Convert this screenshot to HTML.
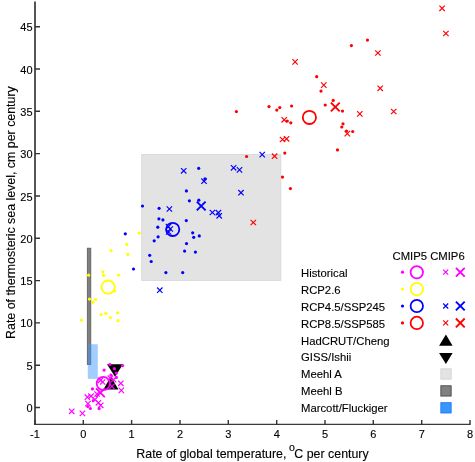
<!DOCTYPE html>
<html><head><meta charset="utf-8"><title>Chart</title>
<style>
html,body{margin:0;padding:0;background:#fff;}
body{width:475px;height:462px;overflow:hidden;font-family:"Liberation Sans",sans-serif;}
svg{display:block;}
text{-webkit-font-smoothing:antialiased;stroke:#000;stroke-width:0.12px;}
</style></head><body>
<svg width="475" height="462" viewBox="0 0 475 462" style="will-change:transform">
<rect width="475" height="462" fill="#fff"/>
<rect x="141.7" y="154.4" width="139.2" height="126.0" fill="#e3e3e3" stroke="#d6d6d6" stroke-width="0.8"/>
<rect x="87.3" y="248.2" width="3.5" height="116.3" fill="#808080" stroke="#5a5a5a" stroke-width="0.8"/>
<path d="M107.0 364.2L123.0 364.2L115.0 376.8Z" fill="#000"/>
<path d="M103.4 389.4L118.4 389.4L110.9 376.6Z" fill="#000"/>
<rect x="87.8" y="344.2" width="10.0" height="34.7" fill="#3d94ff" fill-opacity="0.47"/>
<circle cx="139.2" cy="233.1" r="1.6" fill="#ffff00"/>
<circle cx="126.7" cy="244.4" r="1.6" fill="#ffff00"/>
<circle cx="111.0" cy="250.7" r="1.6" fill="#ffff00"/>
<circle cx="127.9" cy="254.4" r="1.6" fill="#ffff00"/>
<circle cx="102.9" cy="271.8" r="1.6" fill="#ffff00"/>
<circle cx="103.7" cy="275.4" r="1.6" fill="#ffff00"/>
<circle cx="118.5" cy="275.1" r="1.6" fill="#ffff00"/>
<circle cx="88.6" cy="275.2" r="1.6" fill="#ffff00"/>
<circle cx="114.5" cy="290.7" r="1.6" fill="#ffff00"/>
<circle cx="89.5" cy="299.1" r="1.6" fill="#ffff00"/>
<circle cx="95.7" cy="299.5" r="1.6" fill="#ffff00"/>
<circle cx="92.9" cy="302.3" r="1.6" fill="#ffff00"/>
<circle cx="101.1" cy="314.6" r="1.6" fill="#ffff00"/>
<circle cx="105.8" cy="313.3" r="1.6" fill="#ffff00"/>
<circle cx="110.4" cy="317.6" r="1.6" fill="#ffff00"/>
<circle cx="117.6" cy="312.8" r="1.6" fill="#ffff00"/>
<circle cx="118.1" cy="320.7" r="1.6" fill="#ffff00"/>
<circle cx="81.4" cy="320.2" r="1.6" fill="#ffff00"/>
<circle cx="108.1" cy="287.1" r="6.6" stroke="#ffff00" stroke-width="1.8" fill="none"/>
<circle cx="198.7" cy="168.3" r="1.6" fill="#0000ff"/>
<circle cx="205.0" cy="178.9" r="1.6" fill="#0000ff"/>
<circle cx="186.4" cy="190.9" r="1.6" fill="#0000ff"/>
<circle cx="189.4" cy="200.8" r="1.6" fill="#0000ff"/>
<circle cx="198.8" cy="200.2" r="1.6" fill="#0000ff"/>
<circle cx="142.5" cy="206.0" r="1.6" fill="#0000ff"/>
<circle cx="159.1" cy="208.3" r="1.6" fill="#0000ff"/>
<circle cx="158.9" cy="218.8" r="1.6" fill="#0000ff"/>
<circle cx="162.9" cy="219.9" r="1.6" fill="#0000ff"/>
<circle cx="186.3" cy="220.6" r="1.6" fill="#0000ff"/>
<circle cx="157.8" cy="227.2" r="1.6" fill="#0000ff"/>
<circle cx="192.7" cy="232.8" r="1.6" fill="#0000ff"/>
<circle cx="193.7" cy="237.3" r="1.6" fill="#0000ff"/>
<circle cx="199.3" cy="235.9" r="1.6" fill="#0000ff"/>
<circle cx="158.1" cy="236.8" r="1.6" fill="#0000ff"/>
<circle cx="154.2" cy="240.8" r="1.6" fill="#0000ff"/>
<circle cx="186.5" cy="243.6" r="1.6" fill="#0000ff"/>
<circle cx="184.6" cy="251.1" r="1.6" fill="#0000ff"/>
<circle cx="195.4" cy="252.1" r="1.6" fill="#0000ff"/>
<circle cx="149.7" cy="255.3" r="1.6" fill="#0000ff"/>
<circle cx="151.2" cy="261.5" r="1.6" fill="#0000ff"/>
<circle cx="133.5" cy="269.0" r="1.6" fill="#0000ff"/>
<circle cx="165.9" cy="272.6" r="1.6" fill="#0000ff"/>
<circle cx="182.7" cy="272.6" r="1.6" fill="#0000ff"/>
<circle cx="125.3" cy="233.8" r="1.6" fill="#0000ff"/>
<path d="M181.0 168.1L186.4 173.5M181.0 173.5L186.4 168.1" stroke="#0000ff" stroke-width="1.15" fill="none"/>
<path d="M201.3 178.5L206.7 183.9M201.3 183.9L206.7 178.5" stroke="#0000ff" stroke-width="1.15" fill="none"/>
<path d="M166.7 206.3L172.1 211.7M166.7 211.7L172.1 206.3" stroke="#0000ff" stroke-width="1.15" fill="none"/>
<path d="M209.7 209.8L215.1 215.2M209.7 215.2L215.1 209.8" stroke="#0000ff" stroke-width="1.15" fill="none"/>
<path d="M215.7 210.0L221.1 215.4M215.7 215.4L221.1 210.0" stroke="#0000ff" stroke-width="1.15" fill="none"/>
<path d="M216.5 213.1L221.9 218.5M216.5 218.5L221.9 213.1" stroke="#0000ff" stroke-width="1.15" fill="none"/>
<path d="M230.9 165.1L236.3 170.5M230.9 170.5L236.3 165.1" stroke="#0000ff" stroke-width="1.15" fill="none"/>
<path d="M236.8 167.2L242.2 172.6M236.8 172.6L242.2 167.2" stroke="#0000ff" stroke-width="1.15" fill="none"/>
<path d="M238.3 190.0L243.7 195.4M238.3 195.4L243.7 190.0" stroke="#0000ff" stroke-width="1.15" fill="none"/>
<path d="M259.5 151.9L264.9 157.3M259.5 157.3L264.9 151.9" stroke="#0000ff" stroke-width="1.15" fill="none"/>
<path d="M157.1 287.5L162.5 292.9M157.1 292.9L162.5 287.5" stroke="#0000ff" stroke-width="1.15" fill="none"/>
<path d="M165.8 223.9L171.2 229.3M165.8 229.3L171.2 223.9" stroke="#0000ff" stroke-width="1.15" fill="none"/>
<path d="M167.6 226.3L173.0 231.7M167.6 231.7L173.0 226.3" stroke="#0000ff" stroke-width="1.15" fill="none"/>
<path d="M165.9 229.3L171.3 234.7M165.9 234.7L171.3 229.3" stroke="#0000ff" stroke-width="1.15" fill="none"/>
<path d="M196.8 201.6L205.6 210.4M196.8 210.4L205.6 201.6" stroke="#0000ff" stroke-width="1.9" fill="none"/>
<circle cx="172.7" cy="229.4" r="6.6" stroke="#0000ff" stroke-width="1.8" fill="none"/>
<circle cx="367.5" cy="40.1" r="1.6" fill="#ff0000"/>
<circle cx="351.4" cy="45.6" r="1.6" fill="#ff0000"/>
<circle cx="316.7" cy="76.7" r="1.6" fill="#ff0000"/>
<circle cx="321.0" cy="91.1" r="1.6" fill="#ff0000"/>
<circle cx="269.0" cy="106.6" r="1.6" fill="#ff0000"/>
<circle cx="276.8" cy="110.1" r="1.6" fill="#ff0000"/>
<circle cx="279.8" cy="107.6" r="1.6" fill="#ff0000"/>
<circle cx="291.6" cy="106.0" r="1.6" fill="#ff0000"/>
<circle cx="325.2" cy="105.0" r="1.6" fill="#ff0000"/>
<circle cx="333.2" cy="100.4" r="1.6" fill="#ff0000"/>
<circle cx="342.5" cy="111.1" r="1.6" fill="#ff0000"/>
<circle cx="287.3" cy="121.0" r="1.6" fill="#ff0000"/>
<circle cx="290.8" cy="122.8" r="1.6" fill="#ff0000"/>
<circle cx="343.0" cy="123.8" r="1.6" fill="#ff0000"/>
<circle cx="341.8" cy="127.0" r="1.6" fill="#ff0000"/>
<circle cx="346.5" cy="131.0" r="1.6" fill="#ff0000"/>
<circle cx="352.7" cy="131.5" r="1.6" fill="#ff0000"/>
<circle cx="337.5" cy="149.9" r="1.6" fill="#ff0000"/>
<circle cx="284.8" cy="153.1" r="1.6" fill="#ff0000"/>
<circle cx="246.6" cy="156.5" r="1.6" fill="#ff0000"/>
<circle cx="282.5" cy="177.1" r="1.6" fill="#ff0000"/>
<circle cx="290.4" cy="188.6" r="1.6" fill="#ff0000"/>
<circle cx="236.4" cy="111.6" r="1.6" fill="#ff0000"/>
<path d="M439.4 5.6L444.8 11.0M439.4 11.0L444.8 5.6" stroke="#ff0000" stroke-width="1.15" fill="none"/>
<path d="M443.2 30.8L448.6 36.2M443.2 36.2L448.6 30.8" stroke="#ff0000" stroke-width="1.15" fill="none"/>
<path d="M375.2 50.3L380.6 55.7M375.2 55.7L380.6 50.3" stroke="#ff0000" stroke-width="1.15" fill="none"/>
<path d="M292.4 59.2L297.8 64.6M292.4 64.6L297.8 59.2" stroke="#ff0000" stroke-width="1.15" fill="none"/>
<path d="M321.1 82.4L326.5 87.8M321.1 87.8L326.5 82.4" stroke="#ff0000" stroke-width="1.15" fill="none"/>
<path d="M377.5 85.6L382.9 91.0M377.5 91.0L382.9 85.6" stroke="#ff0000" stroke-width="1.15" fill="none"/>
<path d="M357.1 111.2L362.5 116.6M357.1 116.6L362.5 111.2" stroke="#ff0000" stroke-width="1.15" fill="none"/>
<path d="M391.0 108.8L396.4 114.2M391.0 114.2L396.4 108.8" stroke="#ff0000" stroke-width="1.15" fill="none"/>
<path d="M281.5 117.1L286.9 122.5M281.5 122.5L286.9 117.1" stroke="#ff0000" stroke-width="1.15" fill="none"/>
<path d="M344.6 130.9L350.0 136.3M344.6 136.3L350.0 130.9" stroke="#ff0000" stroke-width="1.15" fill="none"/>
<path d="M279.8 136.8L285.2 142.2M279.8 142.2L285.2 136.8" stroke="#ff0000" stroke-width="1.15" fill="none"/>
<path d="M283.9 136.1L289.3 141.5M283.9 141.5L289.3 136.1" stroke="#ff0000" stroke-width="1.15" fill="none"/>
<path d="M271.9 153.5L277.3 158.9M271.9 158.9L277.3 153.5" stroke="#ff0000" stroke-width="1.15" fill="none"/>
<path d="M250.6 219.8L256.0 225.2M250.6 225.2L256.0 219.8" stroke="#ff0000" stroke-width="1.15" fill="none"/>
<path d="M330.9 102.6L339.7 111.4M330.9 111.4L339.7 102.6" stroke="#ff0000" stroke-width="1.9" fill="none"/>
<circle cx="309.4" cy="117.4" r="6.6" stroke="#ff0000" stroke-width="1.8" fill="none"/>
<circle cx="109.9" cy="364.5" r="1.6" fill="#ff00ff"/>
<circle cx="122.6" cy="365.6" r="1.6" fill="#ff00ff"/>
<circle cx="104.1" cy="370.1" r="1.6" fill="#ff00ff"/>
<circle cx="114.4" cy="368.7" r="1.6" fill="#ff00ff"/>
<circle cx="116.4" cy="373.1" r="1.6" fill="#ff00ff"/>
<circle cx="110.9" cy="375.1" r="1.6" fill="#ff00ff"/>
<circle cx="116.4" cy="377.4" r="1.6" fill="#ff00ff"/>
<circle cx="92.5" cy="388.9" r="1.6" fill="#ff00ff"/>
<circle cx="93.3" cy="400.6" r="1.6" fill="#ff00ff"/>
<circle cx="87.8" cy="406.5" r="1.6" fill="#ff00ff"/>
<circle cx="90.4" cy="408.5" r="1.6" fill="#ff00ff"/>
<circle cx="99.1" cy="408.6" r="1.6" fill="#ff00ff"/>
<path d="M69.0 408.6L74.4 414.0M69.0 414.0L74.4 408.6" stroke="#ff00ff" stroke-width="1.15" fill="none"/>
<path d="M79.7 410.7L85.1 416.1M79.7 416.1L85.1 410.7" stroke="#ff00ff" stroke-width="1.15" fill="none"/>
<path d="M84.7 394.5L90.1 399.9M84.7 399.9L90.1 394.5" stroke="#ff00ff" stroke-width="1.15" fill="none"/>
<path d="M88.3 393.5L93.7 398.9M88.3 398.9L93.7 393.5" stroke="#ff00ff" stroke-width="1.15" fill="none"/>
<path d="M85.3 400.9L90.7 406.3M85.3 406.3L90.7 400.9" stroke="#ff00ff" stroke-width="1.15" fill="none"/>
<path d="M92.3 396.8L97.7 402.2M92.3 402.2L97.7 396.8" stroke="#ff00ff" stroke-width="1.15" fill="none"/>
<path d="M95.7 400.1L101.1 405.5M95.7 405.5L101.1 400.1" stroke="#ff00ff" stroke-width="1.15" fill="none"/>
<path d="M98.0 402.6L103.4 408.0M98.0 408.0L103.4 402.6" stroke="#ff00ff" stroke-width="1.15" fill="none"/>
<path d="M118.1 380.6L123.5 386.0M118.1 386.0L123.5 380.6" stroke="#ff00ff" stroke-width="1.15" fill="none"/>
<path d="M118.6 387.7L124.0 393.1M118.6 393.1L124.0 387.7" stroke="#ff00ff" stroke-width="1.15" fill="none"/>
<path d="M109.2 383.7L114.6 389.1M109.2 389.1L114.6 383.7" stroke="#ff00ff" stroke-width="1.15" fill="none"/>
<path d="M107.7 375.5L113.1 380.9M107.7 380.9L113.1 375.5" stroke="#ff00ff" stroke-width="1.15" fill="none"/>
<path d="M110.9 376.9L116.3 382.3M110.9 382.3L116.3 376.9" stroke="#ff00ff" stroke-width="1.15" fill="none"/>
<path d="M97.9 377.6L103.3 383.0M97.9 383.0L103.3 377.6" stroke="#ff00ff" stroke-width="1.15" fill="none"/>
<path d="M99.9 379.3L105.3 384.7M99.9 384.7L105.3 379.3" stroke="#ff00ff" stroke-width="1.15" fill="none"/>
<path d="M94.3 391.3L99.7 396.7M94.3 396.7L99.7 391.3" stroke="#ff00ff" stroke-width="1.15" fill="none"/>
<path d="M96.0 388.4L104.8 397.2M96.0 397.2L104.8 388.4" stroke="#ff00ff" stroke-width="1.9" fill="none"/>
<circle cx="103.3" cy="383.5" r="6.6" stroke="#ff00ff" stroke-width="1.8" fill="none"/>
<path d="M35.0 1.5V425.0" stroke="#555555" stroke-width="2" fill="none"/>
<path d="M34.0 424.3H470.6" stroke="#3a3a3a" stroke-width="1.3" fill="none"/>
<path d="M35.0 407.5h5.0M35.0 365.2h5.0M35.0 322.9h5.0M35.0 280.6h5.0M35.0 238.3h5.0M35.0 196.0h5.0M35.0 153.6h5.0M35.0 111.3h5.0M35.0 69.0h5.0M35.0 26.7h5.0M35.0 424.4v-4.4M83.3 424.4v-4.4M131.6 424.4v-4.4M180.0 424.4v-4.4M228.3 424.4v-4.4M276.7 424.4v-4.4M325.0 424.4v-4.4M373.3 424.4v-4.4M421.7 424.4v-4.4M470.0 424.4v-4.4" stroke="#333" stroke-width="1.4" fill="none"/>
<g font-family="Liberation Sans, sans-serif" font-size="11" fill="#000">
<text x="32.6" y="412.0" text-anchor="end">0</text>
<text x="32.6" y="369.7" text-anchor="end">5</text>
<text x="32.6" y="327.4" text-anchor="end">10</text>
<text x="32.6" y="285.1" text-anchor="end">15</text>
<text x="32.6" y="242.8" text-anchor="end">20</text>
<text x="32.6" y="200.5" text-anchor="end">25</text>
<text x="32.6" y="158.1" text-anchor="end">30</text>
<text x="32.6" y="115.8" text-anchor="end">35</text>
<text x="32.6" y="73.5" text-anchor="end">40</text>
<text x="32.6" y="31.2" text-anchor="end">45</text>
<text x="35.0" y="438.0" text-anchor="middle">-1</text>
<text x="83.3" y="438.0" text-anchor="middle">0</text>
<text x="131.6" y="438.0" text-anchor="middle">1</text>
<text x="180.0" y="438.0" text-anchor="middle">2</text>
<text x="228.3" y="438.0" text-anchor="middle">3</text>
<text x="276.7" y="438.0" text-anchor="middle">4</text>
<text x="325.0" y="438.0" text-anchor="middle">5</text>
<text x="373.3" y="438.0" text-anchor="middle">6</text>
<text x="421.7" y="438.0" text-anchor="middle">7</text>
<text x="470.0" y="438.0" text-anchor="middle">8</text>
</g>
<text x="252.5" y="457.6" text-anchor="middle" font-family="Liberation Sans, sans-serif" font-size="12.4" fill="#000">Rate of global temperature, <tspan dx="-0.9" dy="-6.6" font-size="10.6">o</tspan><tspan dx="-0.6" dy="6.6">C per century</tspan></text>
<text transform="translate(15.0 212.6) rotate(-90)" x="0" y="0" text-anchor="middle" font-family="Liberation Sans, sans-serif" font-size="12.4" fill="#000">Rate of thermosteric sea level, cm per century</text>
<g font-family="Liberation Sans, sans-serif" font-size="11.3" fill="#000">
<text x="392.5" y="259.6">CMIP5 CMIP6</text>
<text x="301.0" y="276.9">Historical</text>
<text x="301.0" y="293.8">RCP2.6</text>
<text x="301.0" y="310.7">RCP4.5/SSP245</text>
<text x="301.0" y="327.6">RCP8.5/SSP585</text>
<text x="301.0" y="344.5">HadCRUT/Cheng</text>
<text x="301.0" y="361.4">GISS/Ishii</text>
<text x="301.0" y="378.4">Meehl A</text>
<text x="301.0" y="395.3">Meehl B</text>
<text x="301.0" y="412.2">Marcott/Fluckiger</text>
</g>
<circle cx="402.5" cy="272.2" r="1.6" fill="#ff00ff"/>
<circle cx="416.8" cy="272.2" r="6.2" stroke="#ff00ff" stroke-width="1.75" fill="none"/>
<path d="M443.2 269.7L448.2 274.7M443.2 274.7L448.2 269.7" stroke="#ff00ff" stroke-width="1.2" fill="none"/>
<path d="M455.9 267.8L464.7 276.6M455.9 276.6L464.7 267.8" stroke="#ff00ff" stroke-width="1.9" fill="none"/>
<circle cx="402.5" cy="289.1" r="1.6" fill="#ffff00"/>
<circle cx="416.8" cy="289.1" r="6.2" stroke="#ffff00" stroke-width="1.75" fill="none"/>
<circle cx="402.5" cy="306.0" r="1.6" fill="#0000ff"/>
<circle cx="416.8" cy="306.0" r="6.2" stroke="#0000ff" stroke-width="1.75" fill="none"/>
<path d="M443.2 303.5L448.2 308.5M443.2 308.5L448.2 303.5" stroke="#0000ff" stroke-width="1.2" fill="none"/>
<path d="M455.9 301.6L464.7 310.4M455.9 310.4L464.7 301.6" stroke="#0000ff" stroke-width="1.9" fill="none"/>
<circle cx="402.5" cy="322.9" r="1.6" fill="#ff0000"/>
<circle cx="416.8" cy="322.9" r="6.2" stroke="#ff0000" stroke-width="1.75" fill="none"/>
<path d="M443.2 320.4L448.2 325.4M443.2 325.4L448.2 320.4" stroke="#ff0000" stroke-width="1.2" fill="none"/>
<path d="M455.9 318.5L464.7 327.3M455.9 327.3L464.7 318.5" stroke="#ff0000" stroke-width="1.9" fill="none"/>
<path d="M439.1 345.7L452.6 345.7L445.9 334.6Z" fill="#000"/>
<path d="M439.1 352.9L452.6 352.9L445.9 364.0Z" fill="#000"/>
<rect x="440.85" y="368.86" width="10.3" height="10.3" fill="#e3e3e3" stroke="#d2d2d2" stroke-width="0.9"/>
<rect x="440.85" y="385.77" width="10.3" height="10.3" fill="#808080" stroke="#4a4a4a" stroke-width="0.9"/>
<rect x="440.85" y="402.68" width="10.3" height="10.3" fill="#3797ff" stroke="#1f78f0" stroke-width="0.9"/>
</svg>
</body></html>
